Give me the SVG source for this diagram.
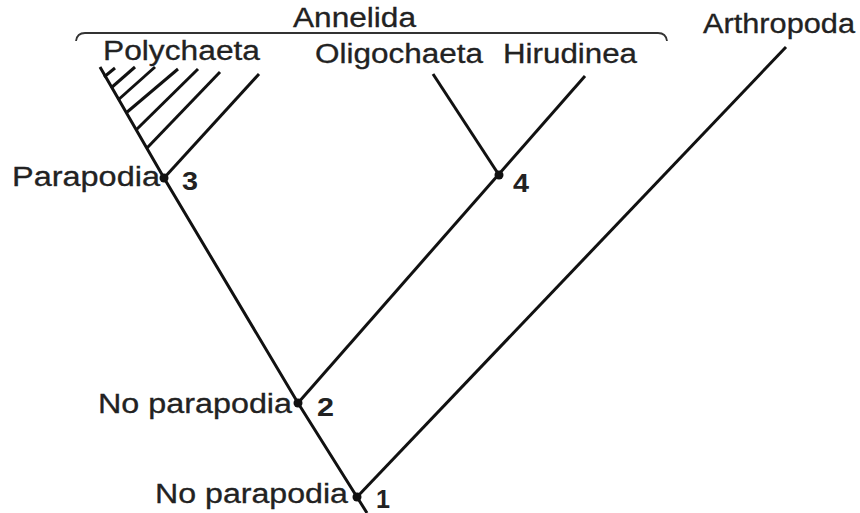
<svg xmlns="http://www.w3.org/2000/svg" width="860" height="513" viewBox="0 0 860 513">
  <style>
    .lbl { font-family: "Liberation Sans", Arial, sans-serif; font-size: 27px; fill: #222; stroke: #222; stroke-width: 0.3; }
    .num { font-family: "Liberation Sans", Arial, sans-serif; font-size: 25px; font-weight: bold; fill: #222; }
    .edge { stroke: #111; stroke-width: 3; fill: none; stroke-linecap: butt; }
    .brace { stroke: #333; stroke-width: 1.8; fill: none; }
    .dot { fill: #111; }
  </style>

  <rect width="860" height="513" fill="#ffffff"/>

  <!-- branches of the tree -->
  <g id="connectors">
    <polyline class="edge" points="100,67 164,178 298,403 357,497 367,513"/>
    <line class="edge" x1="357" y1="497" x2="786" y2="47"/>
    <line class="edge" x1="298" y1="403" x2="585" y2="76"/>
    <line class="edge" x1="499" y1="175" x2="433" y2="74"/>
    <!-- Polychaeta hatching -->
    <line class="edge" x1="164" y1="178" x2="259" y2="74"/>
    <line class="edge" x1="147" y1="148" x2="220" y2="72"/>
    <line class="edge" x1="136" y1="130" x2="198" y2="69"/>
    <line class="edge" x1="126" y1="113" x2="178" y2="69"/>
    <line class="edge" x1="118" y1="100" x2="155" y2="67"/>
    <line class="edge" x1="111" y1="88" x2="135" y2="67"/>
    <line class="edge" x1="104" y1="77" x2="115" y2="68"/>
  </g>

  <g id="annelida">
    <path class="brace" d="M76,41 Q77,33 85,33 H658 Q666,33 667,41"/>
    <text class="lbl" x="293" y="27" textLength="123" lengthAdjust="spacingAndGlyphs">Annelida</text>
  </g>

  <g id="polychaeta">
    <text class="lbl" x="103" y="60" textLength="157" lengthAdjust="spacingAndGlyphs">Polychaeta</text>
  </g>

  <g id="oligochaeta">
    <text class="lbl" x="315" y="63" textLength="168" lengthAdjust="spacingAndGlyphs">Oligochaeta</text>
  </g>

  <g id="hirudinea">
    <text class="lbl" x="503" y="63" textLength="134" lengthAdjust="spacingAndGlyphs">Hirudinea</text>
  </g>

  <g id="arthropoda">
    <text class="lbl" x="703" y="33" textLength="152" lengthAdjust="spacingAndGlyphs">Arthropoda</text>
  </g>

  <g id="node3">
    <circle class="dot" cx="164" cy="178" r="4.5"/>
    <text class="lbl" x="12" y="186" textLength="148" lengthAdjust="spacingAndGlyphs">Parapodia</text>
    <text class="num" x="182" y="190" textLength="16" lengthAdjust="spacingAndGlyphs">3</text>
  </g>

  <g id="node4">
    <circle class="dot" cx="499" cy="175" r="4.5"/>
    <text class="num" x="513" y="192" textLength="16" lengthAdjust="spacingAndGlyphs">4</text>
  </g>

  <g id="node2">
    <circle class="dot" cx="298" cy="403" r="4.5"/>
    <text class="lbl" x="98" y="413" textLength="194" lengthAdjust="spacingAndGlyphs">No parapodia</text>
    <text class="num" x="317" y="416" textLength="17" lengthAdjust="spacingAndGlyphs">2</text>
  </g>

  <g id="node1">
    <circle class="dot" cx="357" cy="497" r="4.5"/>
    <text class="lbl" x="155" y="503" textLength="193" lengthAdjust="spacingAndGlyphs">No parapodia</text>
    <text class="num" x="376" y="508" textLength="14" lengthAdjust="spacingAndGlyphs">1</text>
  </g>
</svg>
